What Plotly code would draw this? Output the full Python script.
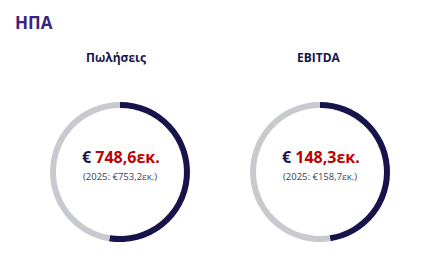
import plotly.graph_objects as go

# Data
panel_titles = ["Πωλήσεις", "EBITDA"]
current_values = ["748,6", "148,3"]
prior_values = ["753,2", "158,7"]
prior_year = "2025"
arc_share = [52.5, 47.6]  # dark arc share (%) read from the rings

NAVY = "#16144a"
GRAY = "#c9cacf"
RED = "#c00000"
PURPLE = "#3a2280"
FONT = "Open Sans"

W, H = 436, 256
centers_px = [(120, 172), (320, 172)]
title_x_px = [116, 319]
R = 70
THICK = 6

fig = go.Figure()
for i, (cx, cy) in enumerate(centers_px):
    share = arc_share[i]
    fig.add_trace(go.Pie(
        values=[share, 100 - share],
        marker=dict(colors=[NAVY, GRAY], line=dict(width=0)),
        hole=(R - THICK) / R,
        sort=False,
        direction="clockwise",
        rotation=0,
        textinfo="none",
        hoverinfo="skip",
        showlegend=False,
        domain=dict(x=[(cx - R) / W, (cx + R) / W],
                    y=[(H - cy - R) / H, (H - cy + R) / H]),
    ))
    fig.add_annotation(
        x=title_x_px[i] / W, y=1 - 57 / H, xref="paper", yref="paper",
        text=f"<b>{panel_titles[i]}</b>", showarrow=False,
        font=dict(family=FONT, size=12, color=NAVY),
        xanchor="center", yanchor="middle",
    )
    fig.add_annotation(
        x=(cx + 1) / W, y=1 - 157 / H, xref="paper", yref="paper",
        text=f"<b><span style='color:{NAVY}'>€ </span>{current_values[i]}εκ.</b>",
        showarrow=False,
        font=dict(family=FONT, size=16, color=RED),
        xanchor="center", yanchor="middle",
    )
    fig.add_annotation(
        x=cx / W, y=1 - 176 / H, xref="paper", yref="paper",
        text=f"({prior_year}: €{prior_values[i]}εκ.)",
        showarrow=False,
        font=dict(family=FONT, size=9.5, color="#3b3d5e"),
        xanchor="center", yanchor="middle",
    )

fig.add_annotation(
    x=13 / W, y=1 - 22 / H, xref="paper", yref="paper",
    text="<b>ΗΠΑ</b>", showarrow=False,
    font=dict(family=FONT, size=17, color=PURPLE),
    xanchor="left", yanchor="middle",
)

fig.update_layout(
    width=W, height=H,
    margin=dict(l=0, r=0, t=0, b=0),
    paper_bgcolor="white", plot_bgcolor="white",
)
fig.write_html("out.html")
